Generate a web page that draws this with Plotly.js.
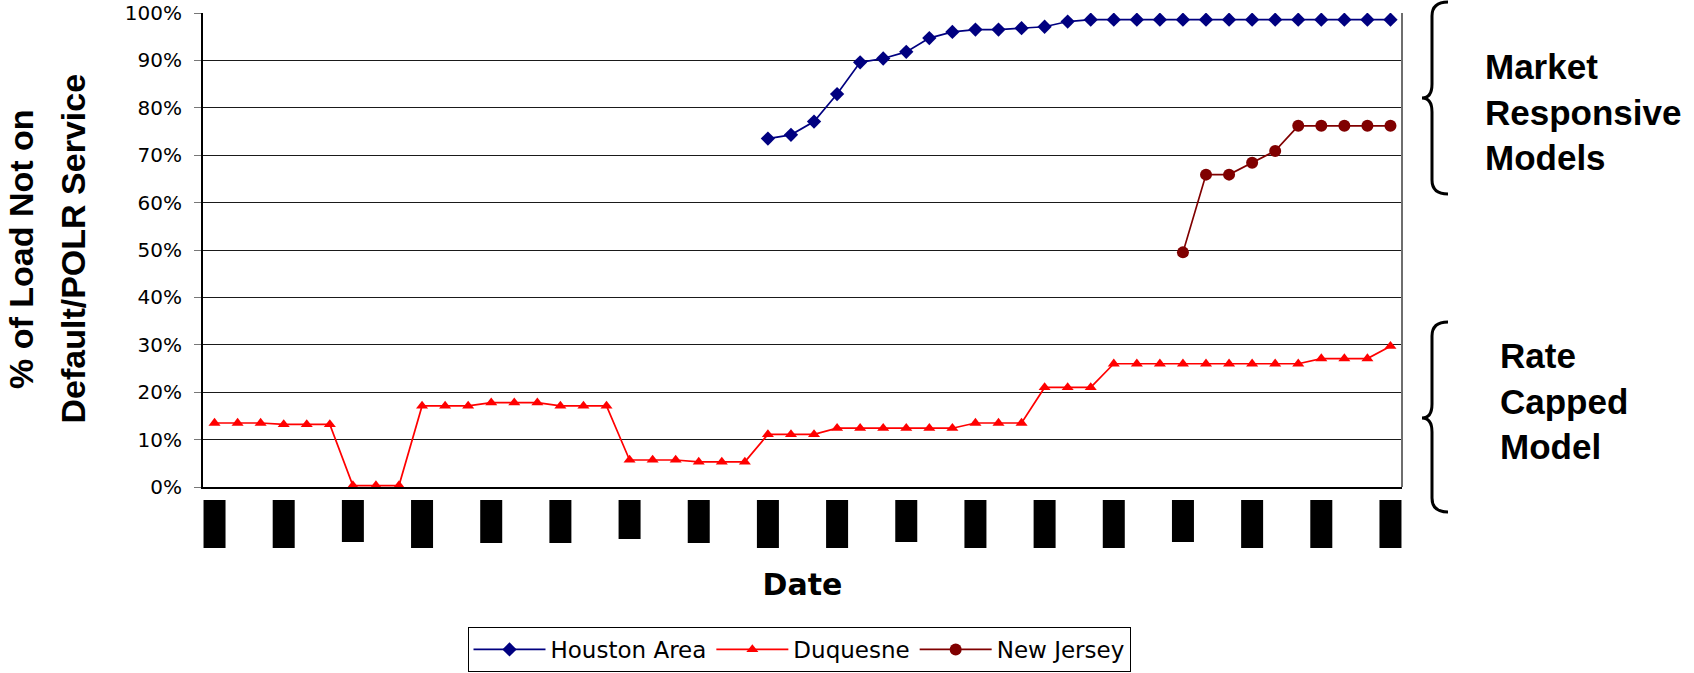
<!DOCTYPE html>
<html>
<head>
<meta charset="utf-8">
<script src="https://cdn.plot.ly/plotly-3.0.1.min.js"></script>
<style>html,body{margin:0;padding:0;background:#fff;}#chart{width:1694px;height:673px;}</style>
</head>
<body>
<div id="chart"></div>
<script>
// Categories: the date labels are blacked out in the source, so periods are named by position
const periods = ["P01","P02","P03","P04","P05","P06","P07","P08","P09","P10","P11","P12","P13",
  "P14","P15","P16","P17","P18","P19","P20","P21","P22","P23","P24","P25","P26",
  "P27","P28","P29","P30","P31","P32","P33","P34","P35","P36","P37","P38","P39",
  "P40","P41","P42","P43","P44","P45","P46","P47","P48","P49","P50","P51","P52"];

// % of load not on default / POLR service
const houston = [73.5, 74.3, 77.1, 82.9, 89.6, 90.4, 91.8, 94.7, 96.0, 96.5, 96.5, 96.8, 97.1, 98.2,
  98.6, 98.6, 98.6, 98.6, 98.6, 98.6, 98.6, 98.6, 98.6, 98.6, 98.6, 98.6, 98.6, 98.6];
const duquesne = [13.5, 13.5, 13.5, 13.2, 13.2, 13.2, 0.3, 0.3, 0.3, 17.1, 17.1, 17.1,
  17.8, 17.8, 17.8, 17.1, 17.1, 17.1, 5.7, 5.7, 5.7, 5.3, 5.3, 5.3,
  11.1, 11.1, 11.1, 12.4, 12.4, 12.4, 12.4, 12.4, 12.4, 13.5, 13.5, 13.5,
  21.0, 21.0, 21.0, 26.0, 26.0, 26.0, 26.0, 26.0, 26.0, 26.0, 26.0, 26.0,
  27.1, 27.1, 27.1, 29.7];
const newJersey = [49.5, 65.9, 65.9, 68.4, 70.9, 76.2, 76.2, 76.2, 76.2, 76.2];

const seriesNames = ["Houston Area", "Duquesne", "New Jersey"];
const yTicks = [0, 10, 20, 30, 40, 50, 60, 70, 80, 90, 100];
const yTickText = ["0%", "10%", "20%", "30%", "40%", "50%", "60%", "70%", "80%", "90%", "100%"];
// redacted (blacked-out) date tick labels: one every third period, with their label lengths
const labelEvery = 3;
const redactedLabelLen = [48, 48, 42, 48, 43, 43, 39, 43, 48, 48, 42, 48, 48, 48, 42, 48, 48, 48];

const W = 1694, H = 673;
const M = {l: 203, r: 292, t: 13, b: 186, autoexpand: false};
const PW = W - M.l - M.r, PH = H - M.t - M.b;
const px2x = p => (p - M.l) / PW;
const px2y = p => (H - M.b - p) / PH;

const tail = (arr) => periods.slice(periods.length - arr.length);

const traces = [
  {x: tail(houston), y: houston, name: seriesNames[0], type: "scatter", mode: "lines+markers",
   line: {color: "#000080", width: 1.7}, marker: {symbol: "diamond", size: 11, color: "#000080"}},
  {x: periods, y: duquesne, name: seriesNames[1], type: "scatter", mode: "lines+markers",
   line: {color: "#FF0000", width: 1.7}, marker: {symbol: "triangle-up", size: 10.5, color: "#FF0000"}},
  {x: tail(newJersey), y: newJersey, name: seriesNames[2], type: "scatter", mode: "lines+markers",
   line: {color: "#800000", width: 1.7}, marker: {symbol: "circle", size: 12, color: "#800000"}}
];

const shapes = [];
// blacked-out tick labels
redactedLabelLen.forEach((len, k) => {
  const i = k * labelEvery;
  shapes.push({type: "rect", xref: "x", yref: "paper", x0: i - 0.477, x1: i + 0.477,
    y0: px2y(500), y1: px2y(500 + len), fillcolor: "#000", line: {width: 0}, layer: "above"});
});
// right border of the plot area
shapes.push({type: "line", xref: "paper", yref: "paper", x0: 1, x1: 1, y0: 0, y1: 1,
  line: {color: "#6e6e6e", width: 2}});
// curly braces
function brace(yTop, yMid, yBot) {
  const xe = 1448, xs = 1432, xt = 1422, r = 14;
  const P = (x, y) => px2x(x).toFixed(5) + "," + px2y(y).toFixed(5);
  return "M" + P(xe, yTop) + " Q" + P(xs, yTop) + " " + P(xs, yTop + r) +
    " L" + P(xs, yMid - r) + " Q" + P(xs, yMid) + " " + P(xt, yMid) +
    " Q" + P(xs, yMid) + " " + P(xs, yMid + r) +
    " L" + P(xs, yBot - r) + " Q" + P(xs, yBot) + " " + P(xe, yBot);
}
shapes.push({type: "path", xref: "paper", yref: "paper", path: brace(2, 98, 194),
  line: {color: "#000", width: 3}});
shapes.push({type: "path", xref: "paper", yref: "paper", path: brace(322, 418, 512),
  line: {color: "#000", width: 3}});

const boldArial = {family: "Liberation Sans, Arial, sans-serif", size: 35, color: "#000", weight: "bold"};
const annotations = [
  {text: "% of Load Not on", xref: "paper", yref: "paper", x: px2x(21), y: px2y(249),
   textangle: -90, showarrow: false, xanchor: "center", yanchor: "middle",
   font: {family: "Liberation Sans, Arial, sans-serif", size: 34, color: "#000", weight: "bold"}},
  {text: "Default/POLR Service", xref: "paper", yref: "paper", x: px2x(72.5), y: px2y(249),
   textangle: -90, showarrow: false, xanchor: "center", yanchor: "middle",
   font: {family: "Liberation Sans, Arial, sans-serif", size: 34, color: "#000", weight: "bold"}},
  {text: "Market<br>Responsive<br>Models", xref: "paper", yref: "paper", x: px2x(1483), y: px2y(112),
   showarrow: false, xanchor: "left", yanchor: "middle", align: "left", font: boldArial},
  {text: "Rate<br>Capped<br>Model", xref: "paper", yref: "paper", x: px2x(1498), y: px2y(401),
   showarrow: false, xanchor: "left", yanchor: "middle", align: "left", font: boldArial}
];

const layout = {
  width: W, height: H, margin: M,
  paper_bgcolor: "#fff", plot_bgcolor: "#fff",
  showlegend: true,
  legend: {orientation: "h", x: px2x(799), xanchor: "center",
    y: px2y(627), yanchor: "top",
    itemwidth: 72,
    bordercolor: "#000", borderwidth: 1, bgcolor: "#fff",
    font: {family: "DejaVu Sans", size: 23, color: "#000"}},
  xaxis: {type: "category", categoryorder: "array", categoryarray: periods,
    range: [-0.5, periods.length - 0.5], showticklabels: false, automargin: false,
    ticks: "", showgrid: false, zeroline: false, showline: true, linecolor: "#000", linewidth: 2,
    fixedrange: true,
    title: {text: "Date", standoff: 86, font: {family: "DejaVu Sans", size: 30, color: "#000", weight: "bold"}}},
  yaxis: {range: [0, 100], tickvals: yTicks, ticktext: yTickText, ticks: "outside", ticklen: 7,
    tickcolor: "#777", tickwidth: 1, showgrid: true, gridcolor: "#1a1a1a", gridwidth: 1, automargin: false,
    ticklabelstandoff: 8,
    zeroline: false, showline: true, linecolor: "#000", linewidth: 2, fixedrange: true,
    tickfont: {family: "DejaVu Sans", size: 20, color: "#000"}},
  shapes: shapes,
  annotations: annotations
};

Plotly.newPlot("chart", traces, layout, {displayModeBar: false, staticPlot: true});
</script>
</body>
</html>
